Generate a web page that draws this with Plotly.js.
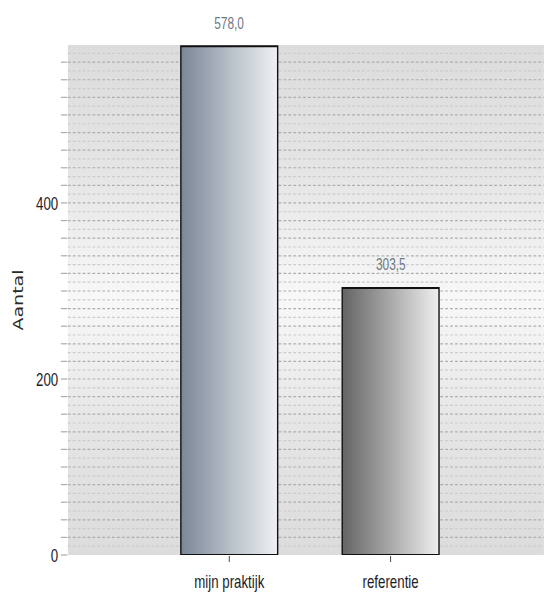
<!DOCTYPE html>
<html>
<head>
<meta charset="utf-8">
<script src="https://cdn.plot.ly/plotly-3.0.1.min.js"></script>
<style>
  html, body { margin: 0; padding: 0; background: #ffffff; overflow: hidden; }
  /* The chart is laid out wide and then condensed horizontally */
  #chart { width: 779px; height: 595px; transform: scaleX(0.7); transform-origin: 0 0; }
</style>
</head>
<body>
<div id="chart"></div>
<script>
// Bar categories and counts
const categories = ['mijn praktijk', 'referentie'];
const counts = [578.0, 303.5];

// Labelled values on the count axis
const yLabelValues = [0, 200, 400];

// Gradient colour stops for each bar (left -> right)
const barGradients = [
  ['#7a8797', '#b6bec7', '#eff1f3'],
  ['#646464', '#a9a9a9', '#efefef']
];

const yMax = 579.5;
const yStep = 20;

// Tick marks every 20 units, text only on the labelled values
const yTickVals = [];
const yTickText = [];
for (let v = 0; v <= yMax; v += yStep) {
  yTickVals.push(v);
  yTickText.push(yLabelValues.includes(v) ? String(v) : '');
}

const fmt = v => v.toFixed(1).replace('.', ',');

const trace = {
  type: 'bar',
  x: categories,
  y: counts,
  width: 0.6,
  marker: {
    color: barGradients.map(g => g[1]),
    line: { color: '#111111', width: 2 }
  },
  hoverinfo: 'skip'
};

const layout = {
  width: 779,
  height: 595,
  margin: { l: 97, r: 2, t: 45, b: 40 },
  paper_bgcolor: '#ffffff',
  plot_bgcolor: '#e9e9e9',
  showlegend: false,
  separators: ',.',
  font: { family: 'Liberation Sans, Arial, sans-serif', color: '#222222' },
  xaxis: {
    type: 'category',
    range: [-1, 1.95],
    showgrid: false,
    zeroline: false,
    showline: false,
    ticks: 'outside',
    ticklen: 6,
    tickwidth: 1.4,
    tickcolor: '#444444',
    ticklabelstandoff: 3,
    tickfont: { size: 19, color: '#1c1c28' },
    fixedrange: true
  },
  yaxis: {
    range: [0, yMax],
    tickmode: 'array',
    tickvals: yTickVals,
    ticktext: yTickText,
    ticks: 'outside',
    ticklen: 9,
    tickwidth: 1.2,
    tickcolor: '#ababab',
    tickfont: { size: 19, color: '#1c1c30' },
    showgrid: true,
    gridcolor: '#adadad',
    griddash: '4px,3px',
    gridwidth: 1.2,
    zeroline: false,
    showline: false,
    minor: {
      tickmode: 'linear',
      tick0: 10,
      dtick: 20,
      ticks: '',
      showgrid: true,
      gridcolor: '#cbcbcb',
      griddash: '4px,3px',
      gridwidth: 1.2
    },
    title: {
      text: 'Aantal',
      standoff: 13,
      font: { family: 'DejaVu Sans, sans-serif', size: 19, color: '#2a2a2a' }
    },
    automargin: false,
    fixedrange: true
  },
  annotations: categories.map((c, i) => ({
    x: c,
    y: counts[i],
    xref: 'x',
    yref: 'y',
    text: fmt(counts[i]),
    showarrow: false,
    yanchor: 'middle',
    yshift: 23,
    font: { size: 17, color: '#6e7884' }
  }))
};

const gd = document.getElementById('chart');
Plotly.newPlot(gd, [trace], layout, { displayModeBar: false, staticPlot: true }).then(() => {
  const NS = 'http://www.w3.org/2000/svg';
  const svg = gd.querySelector('.main-svg');
  let defs = svg.querySelector('defs');
  if (!defs) { defs = document.createElementNS(NS, 'defs'); svg.insertBefore(defs, svg.firstChild); }

  function addGradient(id, stops, vertical) {
    const g = document.createElementNS(NS, 'linearGradient');
    g.setAttribute('id', id);
    g.setAttribute('x1', '0'); g.setAttribute('y1', '0');
    g.setAttribute('x2', vertical ? '0' : '1'); g.setAttribute('y2', vertical ? '1' : '0');
    stops.forEach((c, k) => {
      const s = document.createElementNS(NS, 'stop');
      s.setAttribute('offset', String(k / (stops.length - 1)));
      s.setAttribute('stop-color', c);
      g.appendChild(s);
    });
    defs.appendChild(g);
  }

  // Horizontal shading on the bars
  barGradients.forEach((stops, i) => addGradient('barShade' + i, stops, false));
  gd.querySelectorAll('.barlayer .point path').forEach((p, i) => {
    p.style.fill = 'url(#barShade' + i + ')';
  });

  // Plot area fades from grey at the edges to near white in the middle
  addGradient('plotShade', ['#dcdcdc', '#e5e5e5', '#f8f8f8', '#e5e5e5', '#dcdcdc'], true);
  const bg = gd.querySelector('.bglayer rect.bg');
  if (bg) bg.style.fill = 'url(#plotShade)';
});
</script>
</body>
</html>
